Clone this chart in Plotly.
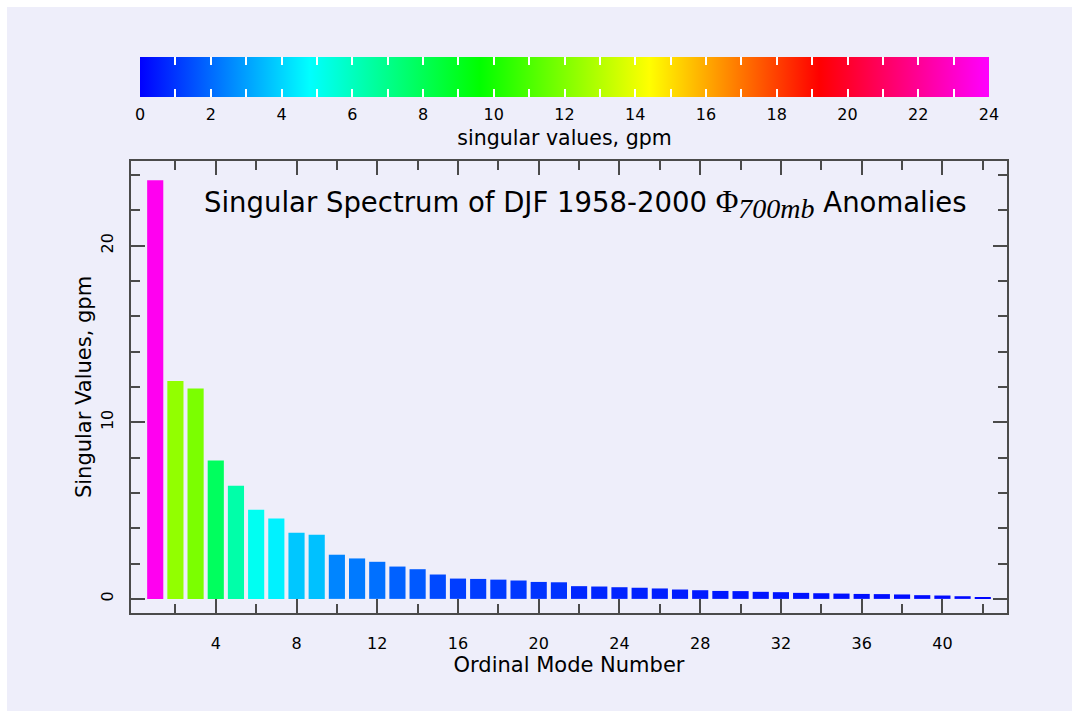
import plotly.graph_objects as go

# ---- data ----
modes = list(range(1, 43))
singular_values = [23.71, 12.34, 11.91, 7.84, 6.41, 5.05, 4.55, 3.74, 3.63, 2.50,
                   2.29, 2.10, 1.83, 1.68, 1.38, 1.15, 1.13, 1.09, 1.04, 0.96,
                   0.94, 0.72, 0.70, 0.66, 0.63, 0.59, 0.53, 0.49, 0.45, 0.44,
                   0.40, 0.38, 0.34, 0.32, 0.30, 0.28, 0.27, 0.25, 0.21, 0.19,
                   0.15, 0.10]
cbar_tickvals = list(range(0, 25))
cbar_ticktext = [str(v) if v % 2 == 0 else "" for v in cbar_tickvals]
x_major = [4, 8, 12, 16, 20, 24, 28, 32, 36, 40]
x_minor = [2, 6, 10, 14, 18, 22, 26, 30, 34, 38, 42]
y_major = [0, 10, 20]
y_minor = [2, 4, 6, 8, 12, 14, 16, 18, 22, 24]

rainbow = [[0.0, "rgb(0,0,255)"], [0.2, "rgb(0,255,255)"], [0.4, "rgb(0,255,0)"],
           [0.6, "rgb(255,255,0)"], [0.8, "rgb(255,0,0)"], [1.0, "rgb(255,0,255)"]]
clear = [[0.0, "rgba(0,0,0,0)"], [1.0, "rgba(0,0,0,0)"]]

FONT = "DejaVu Sans"
BG = "#EEEEFA"
AX = "#4a4a4a"

L, R, T, B = 131, 65, 161, 98
W, H = 1072, 711
pw, ph = W - L - R, H - T - B

def px_x(p):
    return (p - L) / pw

def px_y(p):
    return (H - B - p) / ph

cb_common = dict(orientation="h", x=px_x((140 + 989) / 2), xanchor="center",
                 y=px_y(57.3), yanchor="top",
                 len=(989 - 140) / pw, lenmode="fraction",
                 thicknessmode="pixels", xpad=0, ypad=0, outlinewidth=0,
                 tickvals=cbar_tickvals)
no_labels = dict(ticktext=[""] * len(cbar_tickvals), tickfont=dict(size=1))
white_ticks = dict(ticks="inside", ticklen=8, tickwidth=1.5, tickcolor="white")

fig = go.Figure()
# bars with the main colour bar (gradient, labels, title)
fig.add_trace(go.Bar(
    x=modes, y=singular_values, width=0.8,
    marker=dict(color=singular_values, colorscale=rainbow, cmin=0, cmax=24,
                line=dict(width=0), showscale=True,
                colorbar=dict(**cb_common, thickness=40,
                              ticks="outside", ticklen=4, tickcolor="rgba(0,0,0,0)",
                              ticktext=cbar_ticktext,
                              tickfont=dict(family=FONT, size=16, color="black"),
                              title=dict(text="singular values, gpm", side="bottom",
                                         font=dict(family=FONT, size=20.5, color="black")))),
    hoverinfo="x+y", showlegend=False))

# transparent companion colour bars that only supply the white tick marks
fig.add_trace(go.Scatter(
    x=modes, y=singular_values, mode="markers",
    marker=dict(color=singular_values, colorscale=clear, cmin=0, cmax=24, size=1,
                opacity=0, showscale=True,
                colorbar=dict(**cb_common, thickness=40, **white_ticks, **no_labels)),
    hoverinfo="skip", showlegend=False))
fig.add_trace(go.Scatter(
    x=modes, y=singular_values, mode="markers",
    marker=dict(color=singular_values, colorscale=clear, cmin=0, cmax=24, size=1,
                opacity=0, showscale=True,
                colorbar=dict(**cb_common, thickness=8, **white_ticks, **no_labels)),
    hoverinfo="skip", showlegend=False))

axis_common = dict(showline=True, linecolor=AX, linewidth=2, mirror="ticks",
                   ticks="inside", tickcolor=AX, tickwidth=2, ticklen=14,
                   showgrid=False, zeroline=False,
                   tickfont=dict(family=FONT, size=16, color="black"))

fig.update_xaxes(**axis_common, range=[-0.2, 43.2], tickvals=x_major,
                 ticklabelstandoff=15,
                 minor=dict(tickvals=x_minor, ticks="inside", ticklen=9,
                            tickcolor=AX, tickwidth=1.5, showgrid=False),
                 title=dict(text="Ordinal Mode Number", standoff=2,
                            font=dict(family=FONT, size=21, color="black")))
fig.update_yaxes(**axis_common, range=[-0.8, 24.8], tickvals=y_major,
                 tickangle=-90, ticklabelstandoff=10,
                 minor=dict(tickvals=y_minor, ticks="inside", ticklen=9,
                            tickcolor=AX, tickwidth=1.5, showgrid=False),
                 title=dict(text="Singular Values, gpm", standoff=0,
                            font=dict(family=FONT, size=21, color="black")))

title_html = ("Singular Spectrum of DJF 1958-2000 "
              "<span style='font-family:Liberation Serif;font-size:31px'>Φ</span>"
              "<sub><span style='font-family:Liberation Serif;font-style:italic;font-size:28px'>700mb</span></sub>"
              " Anomalies")
fig.add_annotation(text=title_html, xref="paper", yref="paper",
                   x=px_x(585.5), y=px_y(204), xanchor="center", yanchor="middle",
                   showarrow=False, font=dict(family=FONT, size=27.5, color="black"))

# white page edge on the left and top, as in the reference
fig.add_shape(type="rect", xref="paper", yref="paper", layer="below",
              x0=px_x(0), x1=px_x(7), y0=px_y(H), y1=px_y(0),
              fillcolor="white", line=dict(width=0))
fig.add_shape(type="rect", xref="paper", yref="paper", layer="below",
              x0=px_x(0), x1=px_x(W), y0=px_y(7), y1=px_y(0),
              fillcolor="white", line=dict(width=0))

fig.update_layout(width=W, height=H, margin=dict(l=L, r=R, t=T, b=B, autoexpand=False),
                  paper_bgcolor=BG, plot_bgcolor="rgba(0,0,0,0)",
                  bargap=0.2, font=dict(family=FONT, color="black"))

fig.write_html("out.html")
